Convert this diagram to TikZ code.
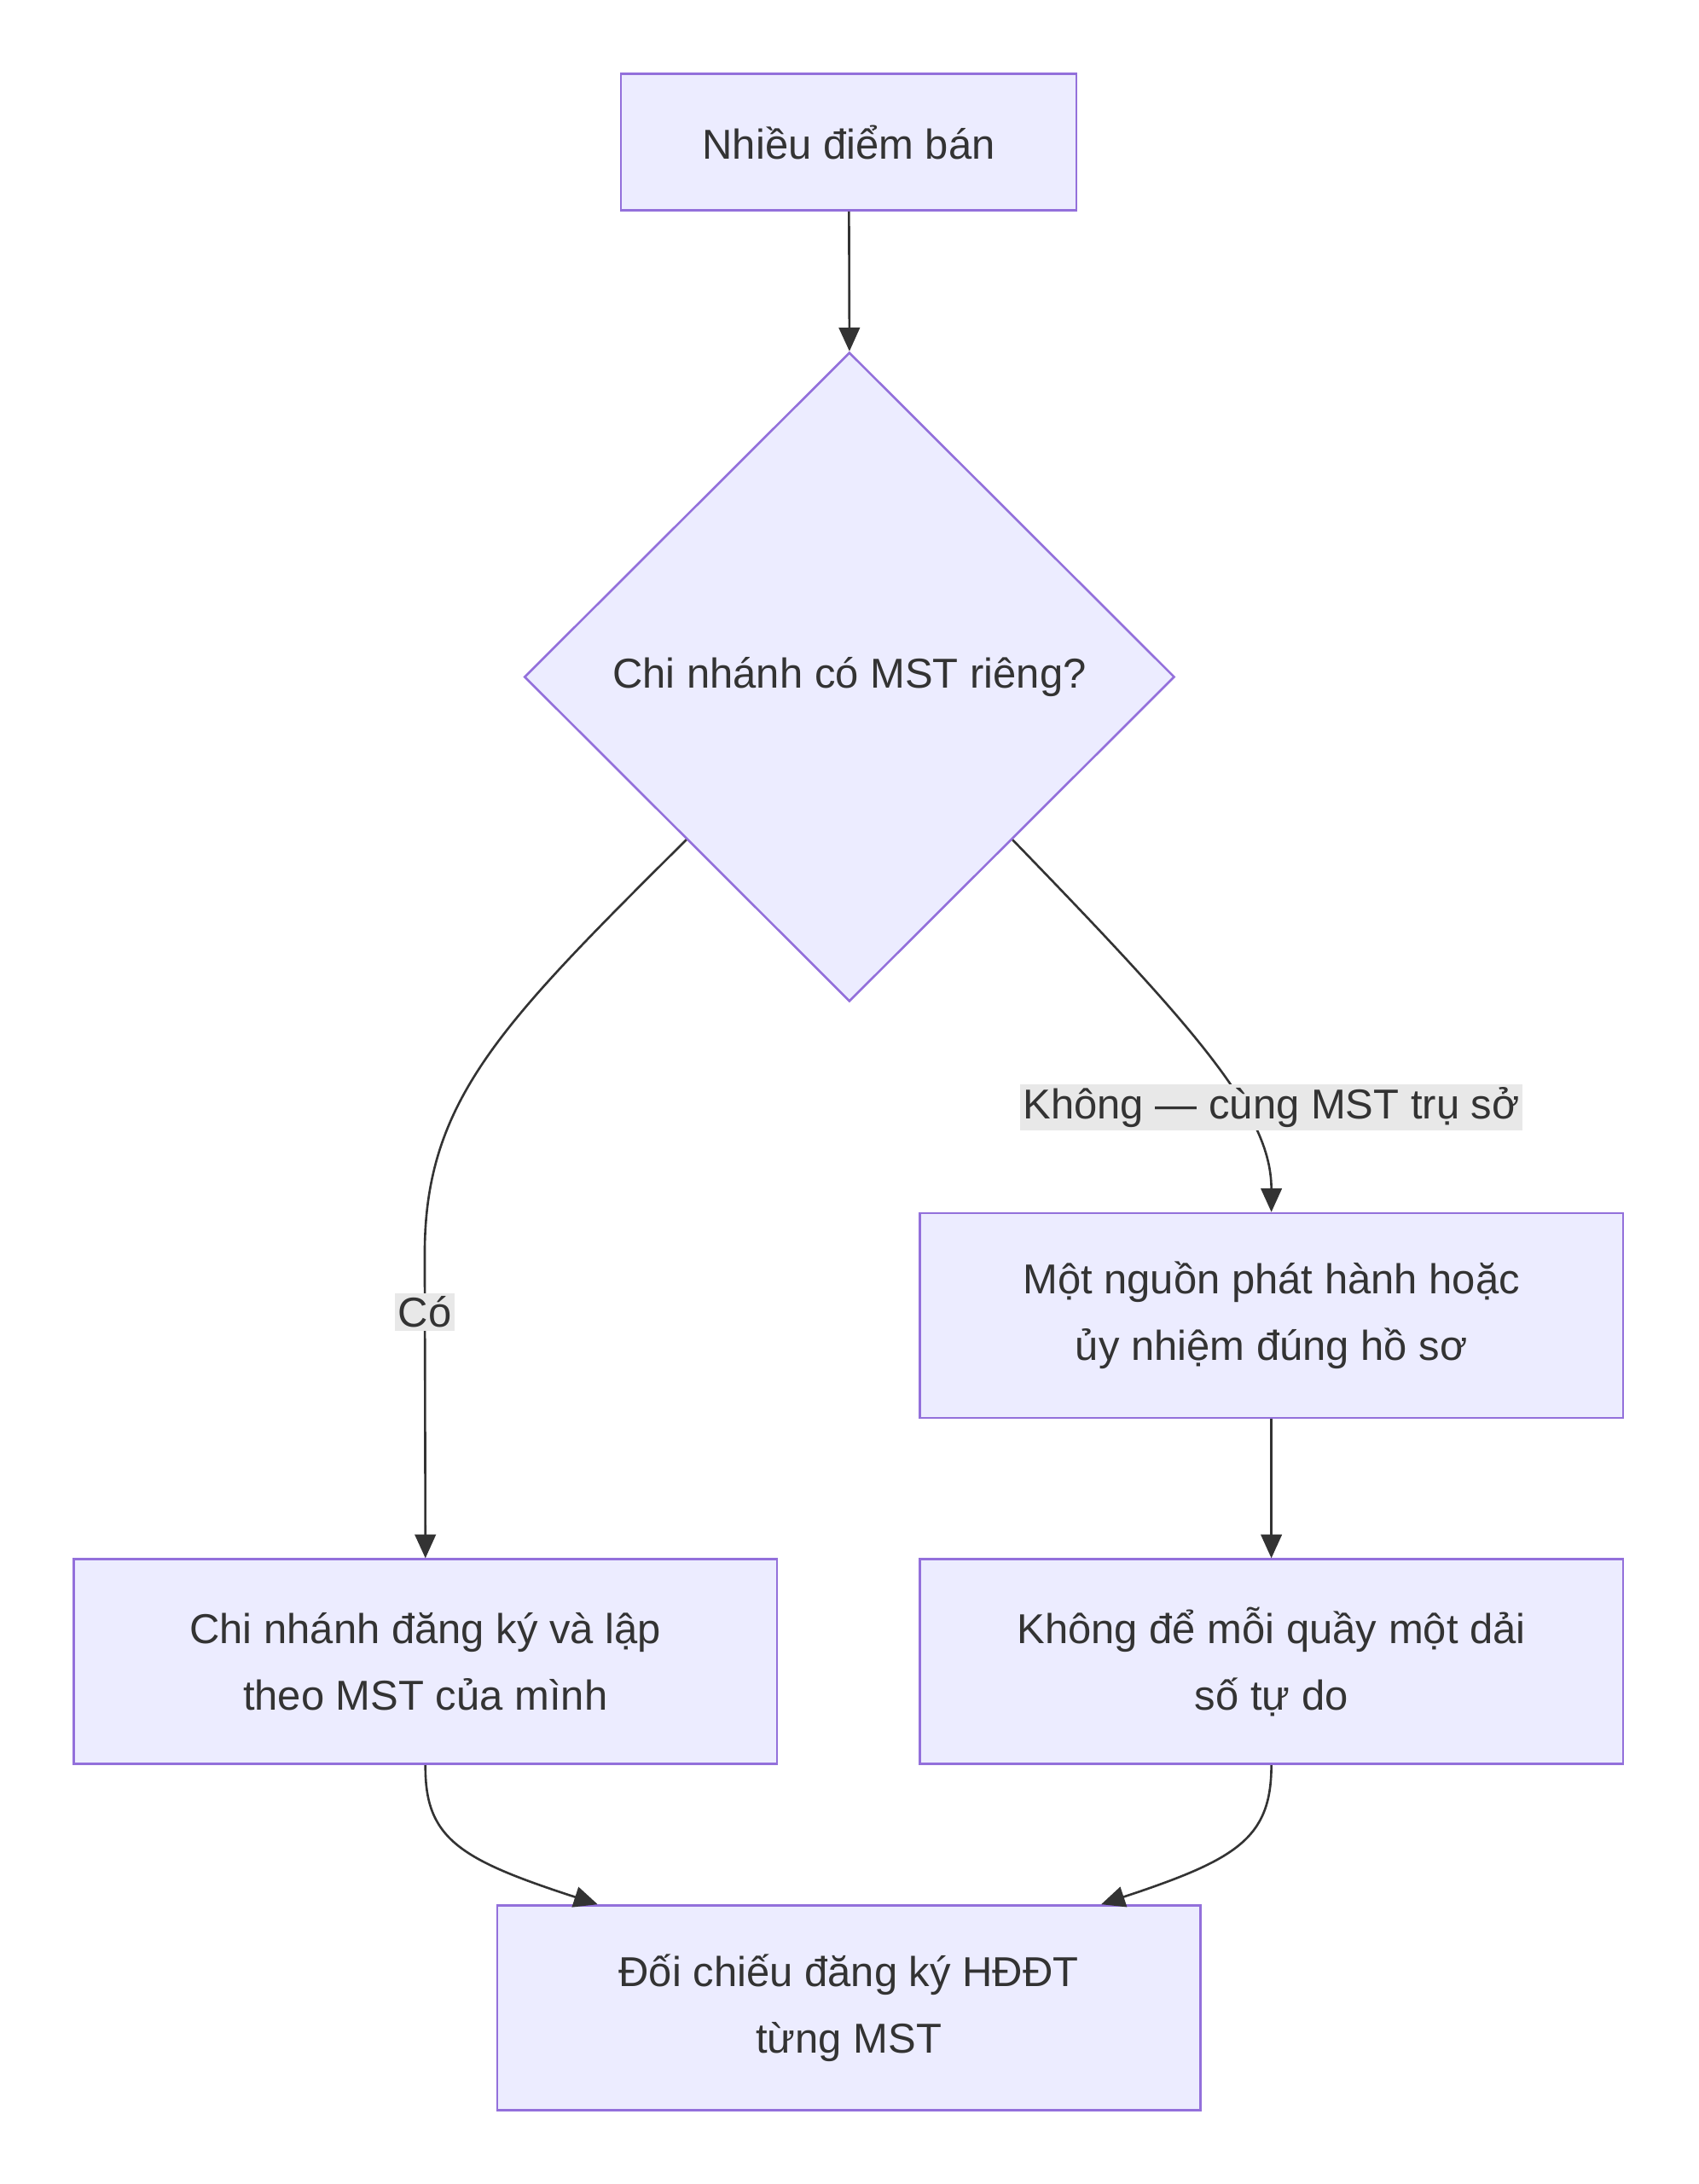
\documentclass[tikz,border=0pt]{standalone}
\usepackage{fontspec}
\setmainfont{Liberation Sans}
\usetikzlibrary{shapes.geometric,arrows.meta,calc,positioning}
\definecolor{boxfill}{HTML}{ECECFF}
\definecolor{boxline}{HTML}{9370DB}
\definecolor{ink}{HTML}{333333}
\definecolor{lblbg}{HTML}{E8E8E8}
\tikzset{
  box/.style={draw=boxline,fill=boxfill,line width=1.6pt,text=ink,align=center,
    minimum width=505pt,minimum height=147pt,font=\fontsize{30}{48}\selectfont},
  decide/.style={diamond,draw=boxline,fill=boxfill,line width=1.6pt,text=ink,inner sep=0pt,
    minimum width=467pt,minimum height=466pt,font=\fontsize{30}{48}\selectfont},
  link/.style={draw=ink,line width=1.6pt,-{Triangle[length=17pt,width=15pt]}},
  lbl/.style={fill=lblbg,text=ink,inner sep=2pt,font=\fontsize{30}{36}\selectfont}
}
\begin{document}
\begin{tikzpicture}[x=1pt,y=-1pt]
  \useasboundingbox (0,0) rectangle (1220,1568);
  % nodes
  \node[box,minimum width=327pt,minimum height=98pt] (start) at (609.5,102) {Nhiều điểm bán};
  \node[decide] (check) at (610,486) {Chi nhánh có MST riêng?};
  \node[box] (one) at (913,944.5) {Một nguồn phát hành hoặc\\ủy nhiệm đúng hồ sơ};
  \node[box] (free) at (913,1193) {Không để mỗi quầy một dải\\số tự do};
  \node[box] (own) at (305.5,1193) {Chi nhánh đăng ký và lập\\theo MST của mình};
  \node[box] (match) at (609.5,1441.5) {Đối chiếu đăng ký HĐĐT\\từng MST};
  \coordinate (sw) at ($(check.west)!0.5!(check.south)$);
  \coordinate (se) at ($(check.east)!0.5!(check.south)$);
  \coordinate (inl) at ($(match.north west)+(73,0)$);
  \coordinate (inr) at ($(match.north east)+(-72,0)$);
  % connectors
  \draw[link] (start) -- (check.north);
  \draw[link] (sw) .. controls (360,735) and (305,790) .. (305,900) -- (own.north);
  \draw[link] (se) .. controls (860,740) and (913,800) .. (one.north);
  \draw[link] (one) -- (free);
  \draw[link] (own.south) .. controls (305,1320) and (330,1335) .. (inl);
  \draw[link] (free.south) .. controls (913,1320) and (888,1335) .. (inr);
  % labels
  \node[lbl] (yes) at (305,942) {Có};
  \node[lbl] (no) at (913,795) {Không — cùng MST trụ sở};
\end{tikzpicture}
\end{document}
